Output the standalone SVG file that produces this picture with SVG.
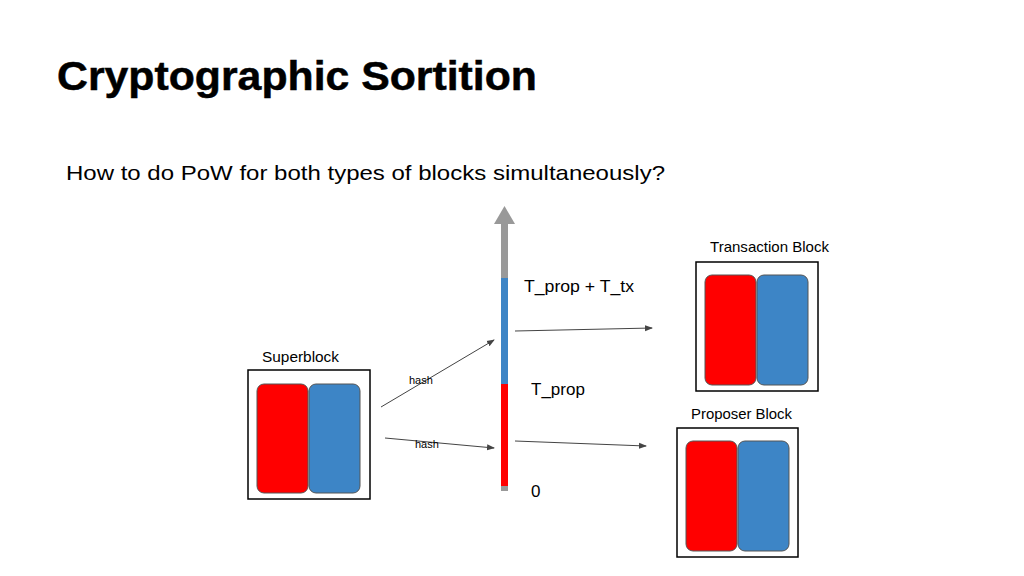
<svg xmlns="http://www.w3.org/2000/svg" width="1024" height="576" viewBox="0 0 1024 576">
<style>
text{font-family:"Liberation Sans",Arial,sans-serif;fill:#000}
.box{fill:#fff;stroke:#000;stroke-width:1.5}
.r{fill:#ff0000;stroke:#555;stroke-width:1}
.b{fill:#3d85c6;stroke:#555;stroke-width:1}
.c{stroke:#444;stroke-width:1;fill:none;marker-end:url(#a)}
.lbl{font-size:15px}
</style>
<defs><marker id="a" markerWidth="8" markerHeight="8" refX="7" refY="4" orient="auto" markerUnits="userSpaceOnUse"><path d="M0,1 L8,4 L0,7 Z" fill="#444"/></marker></defs>
<rect width="1024" height="576" fill="#fff"/>
<text x="57" y="90" font-size="40" font-weight="bold" textLength="480" lengthAdjust="spacingAndGlyphs" stroke="#000" stroke-width="0.5">Cryptographic Sortition</text>
<text x="66" y="180" font-size="21" textLength="599" lengthAdjust="spacingAndGlyphs">How to do PoW for both types of blocks simultaneously?</text>
<g id="axis">
<rect x="501" y="222" width="7" height="56" fill="#999"/>
<path d="M494,224 L504.5,206 L515,224 Z" fill="#999"/>
<rect x="501" y="278" width="7" height="106" fill="#3d85c6"/>
<rect x="501" y="384" width="7" height="102" fill="#ff0000"/>
<rect x="501" y="486" width="7" height="5" fill="#999"/>
<text x="524" y="292" font-size="17" textLength="110" lengthAdjust="spacingAndGlyphs">T_prop + T_tx</text>
<text x="531" y="395" font-size="17">T_prop</text>
<text x="531" y="497" font-size="17">0</text>
</g>
<g id="superblock">
<text x="262" y="362" class="lbl" textLength="77" lengthAdjust="spacingAndGlyphs">Superblock</text>
<rect class="box" x="248" y="370" width="122" height="129"/>
<rect class="r" x="257" y="384" width="51" height="109" rx="7"/>
<rect class="b" x="309" y="384" width="51" height="109" rx="7"/>
</g>
<g id="transaction-block">
<text x="710" y="252" class="lbl" textLength="119" lengthAdjust="spacingAndGlyphs">Transaction Block</text>
<rect class="box" x="696" y="262" width="122" height="129"/>
<rect class="r" x="705" y="275" width="51" height="110" rx="7"/>
<rect class="b" x="757" y="275" width="51" height="110" rx="7"/>
</g>
<g id="proposer-block">
<text x="691" y="419" class="lbl" textLength="101" lengthAdjust="spacingAndGlyphs">Proposer Block</text>
<rect class="box" x="677" y="428" width="121" height="129"/>
<rect class="r" x="686" y="441" width="51" height="110" rx="7"/>
<rect class="b" x="738" y="441" width="51" height="110" rx="7"/>
</g>
<g id="connectors">
<line class="c" x1="381" y1="407" x2="494" y2="340"/>
<line class="c" x1="385" y1="438" x2="494" y2="448"/>
<line class="c" x1="515" y1="331" x2="652" y2="328"/>
<line class="c" x1="515" y1="441" x2="646" y2="446"/>
<text x="409" y="384" font-size="11">hash</text>
<text x="415" y="448" font-size="11">hash</text>
</g>
</svg>
